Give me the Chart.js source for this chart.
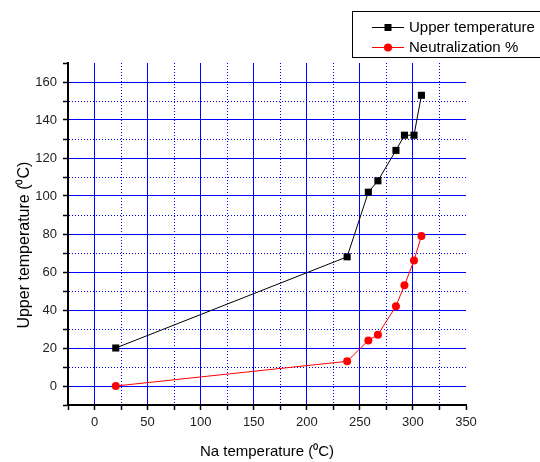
<!DOCTYPE html>
<html>
<head>
<meta charset="utf-8">
<script src="https://cdn.jsdelivr.net/npm/chart.js@4/dist/chart.umd.min.js"></script>
<style>
html, body { margin: 0; padding: 0; background: #fff; }
</style>
</head>
<body>
<canvas id="chart1" width="540" height="462"></canvas>
<script>
// values
const na_temp = [20, 238, 258, 267, 284, 292, 301, 308];
const upper_temp = [20, 68, 102, 108, 124, 132, 132, 153];
const neutralization = [0, 13, 24, 27, 42, 53, 66, 79];
const series_names = ['Upper temperature', 'Neutralization %'];
const x_title = 'Na temperature (\u2070C)';
const y_title = 'Upper temperature (\u2070C)';

const FONT = '"Liberation Sans", Arial, sans-serif';
const BLUE = '#0000ff';

function to_points(xs, ys) {
    return xs.map((x, i) => ({x: x, y: ys[i]}));
}

// Origin style legend box in the top right corner
const legend_box = {
    id: 'legend_box',
    afterDraw(chart) {
        const ctx = chart.ctx;
        ctx.save();
        ctx.strokeStyle = '#000';
        ctx.lineWidth = 1;
        ctx.strokeRect(352.5, 11.5, 200, 46);
        chart.data.datasets.forEach((ds, i) => {
            const y = 27.5 + i * 20;
            ctx.strokeStyle = ds.borderColor;
            ctx.lineWidth = 1;
            ctx.beginPath();
            ctx.moveTo(372, y);
            ctx.lineTo(404, y);
            ctx.stroke();
            ctx.fillStyle = ds.backgroundColor;
            if (ds.pointStyle === 'rect') {
                ctx.fillRect(384.5, y - 3.5, 7, 7);
            } else {
                ctx.beginPath();
                ctx.arc(388, y, 4, 0, Math.PI * 2);
                ctx.fill();
            }
            ctx.fillStyle = '#000';
            ctx.font = '15px ' + FONT;
            ctx.textBaseline = 'middle';
            ctx.textAlign = 'left';
            ctx.fillText(ds.label, 409, y);
        });
        ctx.restore();
    }
};

const chart1_cfg = {
    type: 'line',
    data: {
        datasets: [
            {
                label: series_names[0],
                data: to_points(na_temp, upper_temp),
                borderColor: '#000',
                backgroundColor: '#000',
                borderWidth: 1,
                pointStyle: 'rect',
                pointRadius: 5,
                pointBorderWidth: 0,
                tension: 0
            },
            {
                label: series_names[1],
                data: to_points(na_temp, neutralization),
                borderColor: '#ff0000',
                backgroundColor: '#ff0000',
                borderWidth: 1,
                pointStyle: 'circle',
                pointRadius: 4,
                pointBorderWidth: 0,
                tension: 0
            }
        ]
    },
    options: {
        responsive: false,
        animation: false,
        layout: {
            padding: {left: 0, top: 63, right: 74, bottom: 0}
        },
        plugins: {
            legend: {display: false},
            tooltip: {enabled: false}
        },
        scales: {
            x: {
                type: 'linear',
                min: -25,
                max: 350,
                afterFit: (s) => { s.height = 57; },
                ticks: {
                    stepSize: 25,
                    autoSkip: false,
                    maxRotation: 0,
                    padding: 5,
                    color: '#222',
                    font: {family: FONT, size: 13},
                    callback: (v) => v % 50 === 0 ? v : ''
                },
                grid: {
                    color: (c) => (c.tick && (c.tick.value === 350 || c.tick.value === -25)) ? 'rgba(0,0,0,0)' : BLUE,
                    lineWidth: 1,
                    tickLength: 5,
                    tickColor: '#000',
                    tickWidth: 1.5,
                    tickBorderDash: []
                },
                border: {
                    color: '#000',
                    width: 2,
                    dash: (c) => (c.tick && c.tick.value % 50 !== 0) ? [1, 2] : []
                },
                title: {
                    display: true,
                    text: x_title,
                    color: '#000',
                    font: {family: FONT, size: 15},
                    padding: {top: 0, bottom: 1}
                }
            },
            y: {
                type: 'linear',
                min: -10,
                max: 170,
                afterFit: (s) => { s.width = 68; },
                ticks: {
                    stepSize: 10,
                    autoSkip: false,
                    padding: 6,
                    color: '#222',
                    font: {family: FONT, size: 13},
                    callback: (v) => (v % 20 === 0 && v >= 0) ? v : ''
                },
                grid: {
                    color: (c) => (c.tick && (c.tick.value === 170 || c.tick.value === -10)) ? 'rgba(0,0,0,0)' : BLUE,
                    lineWidth: 1,
                    tickLength: 5,
                    tickColor: '#000',
                    tickWidth: 1.5,
                    tickBorderDash: []
                },
                border: {
                    color: '#000',
                    width: 2,
                    dash: (c) => (c.tick && c.tick.value % 20 !== 0) ? [1, 2] : []
                },
                title: {
                    display: true,
                    // trailing spaces push the centred title a little lower, as in the original
                    text: y_title + '     ',
                    color: '#000',
                    font: {family: FONT, size: 16},
                    padding: {top: 15, bottom: 0}
                }
            }
        }
    },
    plugins: [legend_box]
};

const chart1_ctx = document.getElementById('chart1').getContext('2d');
let chart1 = new Chart(chart1_ctx, chart1_cfg);
</script>
</body>
</html>
